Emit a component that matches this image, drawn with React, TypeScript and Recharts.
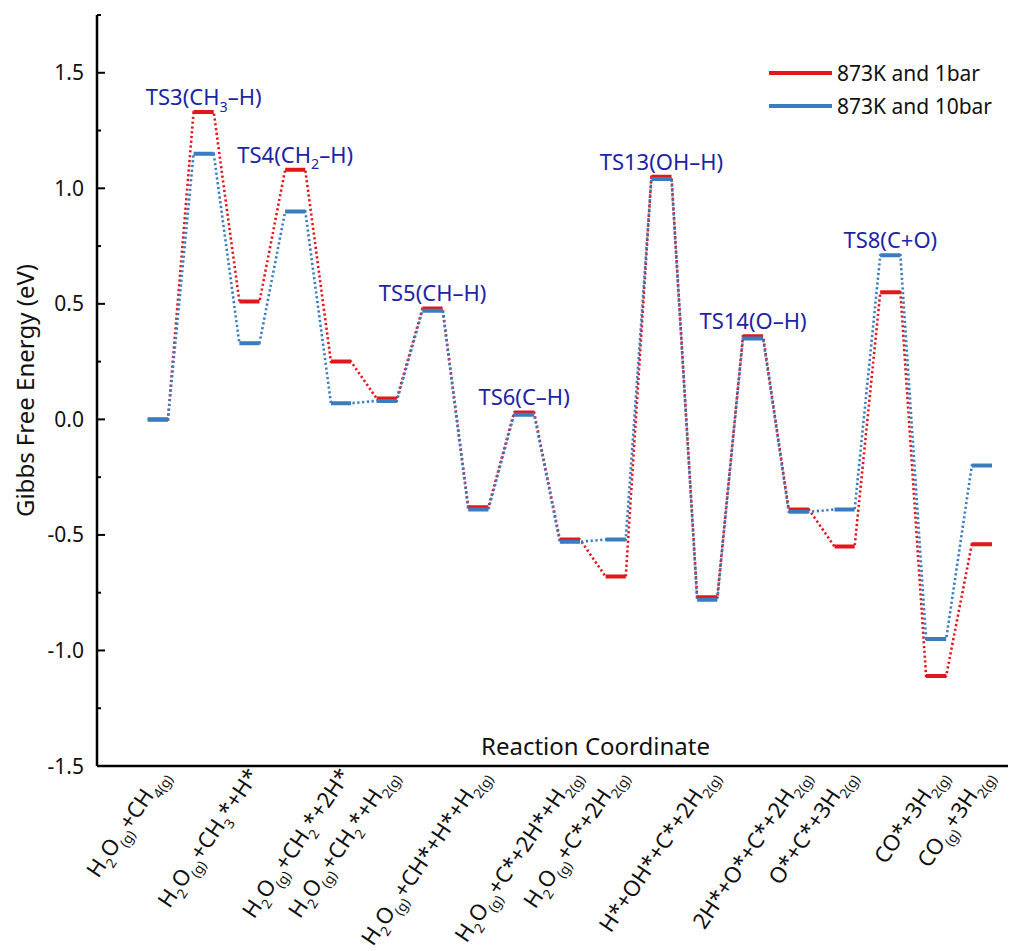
import React from "react";
import { LineChart, Line, XAxis, YAxis, Legend, ReferenceDot } from "recharts";

const FONT = "'Noto Sans', 'Open Sans', sans-serif";
const RED = "#e3161d";
const BLUE = "#3a7cc0";
const TS_COLOR = "#1c24a6";

// states along the reaction coordinate (index = position on x)
const stateLabels = [
  "H_{2}O_{(g)}+CH_{4(g)}",
  "H_{2}O_{(g)}+CH_{3}*+H*",
  "H_{2}O_{(g)}+CH_{2}*+2H*",
  "H_{2}O_{(g)}+CH_{2}*+H_{2(g)}",
  "H_{2}O_{(g)}+CH*+H*+H_{2(g)}",
  "H_{2}O_{(g)}+C*+2H*+H_{2(g)}",
  "H_{2}O_{(g)}+C*+2H_{2(g)}",
  "H*+OH*+C*+2H_{2(g)}",
  "2H*+O*+C*+2H_{2(g)}",
  "O*+C*+3H_{2(g)}",
  "CO*+3H_{2(g)}",
  "CO_{(g)}+3H_{2(g)}",
];
const statePositions = [0, 2, 4, 5, 7, 9, 10, 12, 14, 15, 17, 18];

const tsLabels = ["TS3(CH_{3}–H)", "TS4(CH_{2}–H)", "TS5(CH–H)", "TS6(C–H)", "TS13(OH–H)", "TS14(O–H)", "TS8(C+O)"];
const tsPositions = [1, 3, 6, 8, 11, 13, 16];

const seriesNames = ["873K and 1bar", "873K and 10bar"];
const energy1bar = [0, 1.33, 0.51, 1.08, 0.25, 0.09, 0.48, -0.38, 0.03, -0.52, -0.68, 1.05, -0.77, 0.36, -0.39, -0.55, 0.55, -1.11, -0.54];
const energy10bar = [0, 1.15, 0.33, 0.9, 0.07, 0.08, 0.47, -0.39, 0.02, -0.53, -0.52, 1.04, -0.78, 0.35, -0.4, -0.39, 0.71, -0.95, -0.2];

const yTicks = [-1.5, -1.25, -1, -0.75, -0.5, -0.25, 0, 0.25, 0.5, 0.75, 1, 1.25, 1.5, 1.75];

const HALF = 0.22;
const rows: any[] = [];
energy1bar.forEach((v, i) => {
  const b = energy10bar[i];
  rows.push({ x: i - HALF, red: v, blue: b, redSeg: v, blueSeg: b });
  rows.push({ x: i + HALF, red: v, blue: b, redSeg: v, blueSeg: b });
  if (i < energy1bar.length - 1) rows.push({ x: i + 0.5, redSeg: null, blueSeg: null });
});

function rich(s: string, fs: number, subScale = 0.65) {
  const parts = s.split(/_\{([^}]*)\}/);
  const out: any[] = [];
  let shifted = false;
  parts.forEach((p, i) => {
    if (!p) return;
    const sub = i % 2 === 1;
    let dy: number | undefined;
    if (sub && !shifted) {
      dy = fs * 0.3;
      shifted = true;
    } else if (!sub && shifted) {
      dy = -fs * 0.3;
      shifted = false;
    }
    out.push(
      <tspan key={i} fontSize={sub ? fs * subScale : fs} dy={dy}>
        {p}
      </tspan>
    );
  });
  return out;
}

const YTick = (props: any) => {
  const { x, y, payload } = props;
  const v = payload.value;
  const major = Math.abs(v * 2 - Math.round(v * 2)) < 1e-6;
  return (
    <g>
      <line x1={x} x2={x + (major ? 8 : 4)} y1={y} y2={y} stroke="#000" strokeWidth={2} />
      {major && (
        <text x={x - 13} y={y} dy="0.36em" textAnchor="end" fontSize={21} fill="#111" fontFamily={FONT}>
          {v.toFixed(1)}
        </text>
      )}
    </g>
  );
};

const XTick = (props: any) => {
  const { x, y, payload } = props;
  const idx = statePositions.indexOf(payload.value);
  if (idx < 0) return null;
  return (
    <g transform={`translate(${x + 4},${y + 5}) rotate(-56)`}>
      <text textAnchor="end" dy="0.35em" fill="#111" fontFamily={FONT} fontSize={22}>
        {rich(stateLabels[idx], 22, 0.62)}
      </text>
    </g>
  );
};

const renderLegend = (props: any) => {
  const items = (props.payload || [])
    .filter((e: any) => e.type !== "none" && seriesNames.includes(e.value))
    .sort((a: any, b: any) => seriesNames.indexOf(a.value) - seriesNames.indexOf(b.value));
  return (
    <div style={{ fontFamily: FONT, fontSize: 21, color: "#111" }}>
      {items.map((e: any) => (
        <div key={e.value} style={{ display: "flex", alignItems: "center", height: 33 }}>
          <span style={{ display: "inline-block", width: 63, height: 4, background: e.color, marginRight: 5 }} />
          <span>{e.value}</span>
        </div>
      ))}
    </div>
  );
};

export default function App() {
  return (
    <div style={{ position: "absolute", left: 0, top: 0, background: "#fff" }}>
      <LineChart width={1023} height={951} data={rows} margin={{ top: 15, right: 15, left: 0, bottom: 0 }}>
        <XAxis
          dataKey="x"
          type="number"
          domain={[-1.33, 18.57]}
          ticks={statePositions}
          interval={0}
          allowDataOverflow
          height={185}
          tickSize={0}
          tickMargin={0}
          tickLine={false}
          axisLine={{ stroke: "#000", strokeWidth: 2.5 }}
          tick={<XTick />}
          label={{
            content: (p: any) => {
              const vb = p.viewBox;
              return (
                <text x={vb.x + vb.width / 2 + 43} y={vb.y - 11} textAnchor="middle" fontSize={24} fill="#111" fontFamily={FONT}>
                  Reaction Coordinate
                </text>
              );
            },
          }}
        />
        <YAxis
          type="number"
          domain={[-1.5, 1.75]}
          ticks={yTicks}
          interval={0}
          allowDataOverflow
          width={97}
          tickSize={0}
          tickMargin={0}
          tickLine={false}
          axisLine={{ stroke: "#000", strokeWidth: 2.5 }}
          tick={<YTick />}
          label={{
            content: (p: any) => {
              const vb = p.viewBox;
              const cy = vb.y + vb.height / 2;
              return (
                <text x={26} y={cy} transform={`rotate(-90, 26, ${cy})`} textAnchor="middle" dy="0.35em" fontSize={24} fill="#111" fontFamily={FONT}>
                  Gibbs Free Energy (eV)
                </text>
              );
            },
          }}
        />
        <Legend
          content={renderLegend}
          layout="vertical"
          align="center"
          verticalAlign="middle"
          wrapperStyle={{ left: 769, top: 56, width: 250 }}
        />
        <Line
          dataKey="red"
          legendType="none"
          stroke={RED}
          strokeWidth={2.6}
          strokeDasharray="2.2 2.6"
          dot={false}
          activeDot={false}
          connectNulls
          isAnimationActive={false}
        />
        <Line
          dataKey="blue"
          legendType="none"
          stroke={BLUE}
          strokeWidth={2.6}
          strokeDasharray="2.2 2.6"
          dot={false}
          activeDot={false}
          connectNulls
          isAnimationActive={false}
        />
        <Line
          dataKey="redSeg"
          name={seriesNames[0]}
          stroke={RED}
          strokeWidth={4}
          dot={false}
          activeDot={false}
          isAnimationActive={false}
        />
        <Line
          dataKey="blueSeg"
          name={seriesNames[1]}
          stroke={BLUE}
          strokeWidth={4}
          dot={false}
          activeDot={false}
          isAnimationActive={false}
        />
        {tsPositions.map((pos, i) => (
          <ReferenceDot
            key={tsLabels[i]}
            x={pos}
            y={Math.max(energy1bar[pos], energy10bar[pos])}
            r={1}
            shape={(p: any) => (
              <text x={p.cx} y={p.cy - 7} textAnchor="middle" fontSize={22} fill={TS_COLOR} fontFamily={FONT}>
                {rich(tsLabels[i], 22)}
              </text>
            )}
          />
        ))}
      </LineChart>
    </div>
  );
}
